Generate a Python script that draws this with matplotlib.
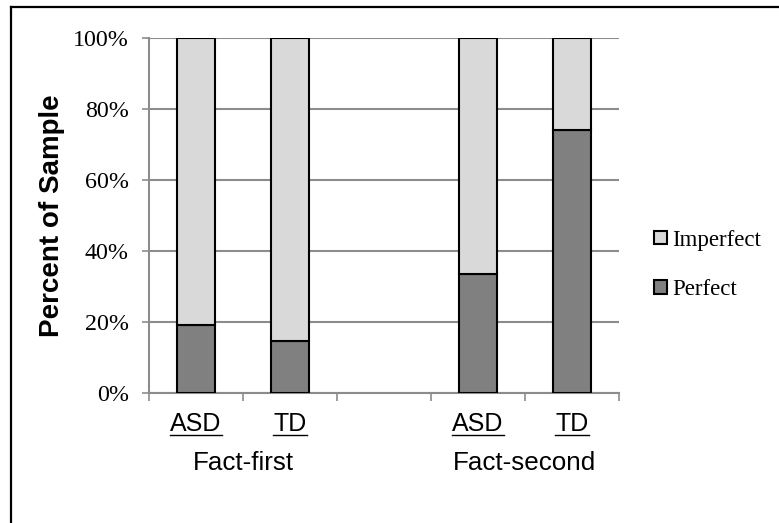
import matplotlib
matplotlib.use("Agg")
import matplotlib.pyplot as plt
from matplotlib.patches import Patch
from matplotlib.lines import Line2D

_DARK = "#808080"
_LIGHT = "#d9d9d9"
_GRID = "#8c8c8c"
_SERIF = "Liberation Serif"
_SANS = "Liberation Sans"

# data (slot 3 is the empty gap between the two conditions)
groups = ["ASD", "TD", "", "ASD", "TD"]
conditions = ["Fact-first", "Fact-second"]
condition_slots = [1.0, 4.0]
perfect = [19.0, 14.5, 0.0, 33.5, 74.0]
imperfect = [81.0, 85.5, 0.0, 66.5, 26.0]
y_ticks = [0, 20, 40, 60, 80, 100]

fig = plt.figure(figsize=(7.79, 5.23), dpi=100)
ax = fig.add_axes([0.1913, 0.2491, 0.6033, 0.6788])

x = [i + 0.5 for i in range(len(groups))]
shown = [i for i, g in enumerate(groups) if g]
xs = [x[i] for i in shown]
ax.bar(xs, [perfect[i] for i in shown], width=0.4, color=_DARK,
       edgecolor="black", linewidth=1.5, zorder=3)
ax.bar(xs, [imperfect[i] for i in shown], width=0.4,
       bottom=[perfect[i] for i in shown], color=_LIGHT,
       edgecolor="black", linewidth=1.5, zorder=3)

ax.set_xlim(0, len(groups))
ax.set_ylim(0, 100)
ax.set_yticks(y_ticks)
ax.set_yticklabels([f"{t}%" for t in y_ticks], fontfamily=_SERIF, fontsize=17.3)
ax.set_xticks(range(len(groups) + 1))
ax.set_xticklabels([])
ax.tick_params(axis="y", length=5, width=1.2, color=_GRID, pad=9.5)
ax.tick_params(axis="x", length=6, width=1.2, color=_GRID)
ax.grid(axis="y", color=_GRID, linewidth=1.5, zorder=0)
for side in ["top", "right"]:
    ax.spines[side].set_visible(False)
for side in ["left", "bottom"]:
    ax.spines[side].set_color(_GRID)
    ax.spines[side].set_linewidth(1.5)

ax.set_ylabel("Percent of Sample", fontfamily=_SANS, fontsize=20,
              fontweight="bold", labelpad=6)

# underlined group labels under each bar
labels = []
for i in shown:
    t = ax.annotate(groups[i], xy=(x[i], 0), xycoords=("data", "axes fraction"),
                    xytext=(0, -27.5), textcoords="offset points",
                    ha="center", va="baseline", fontfamily=_SANS, fontsize=18)
    labels.append(t)
for c, pos in zip(conditions, condition_slots):
    ax.annotate(c, xy=(pos, 0), xycoords=("data", "axes fraction"),
                xytext=(0, -55.5), textcoords="offset points",
                ha="center", va="baseline", fontfamily=_SANS, fontsize=18.7)

handles = [Patch(facecolor=_LIGHT, edgecolor="black", linewidth=1.5),
           Patch(facecolor=_DARK, edgecolor="black", linewidth=1.5)]
leg = ax.legend(handles, ["Imperfect", "Perfect"], loc="center left",
                bbox_to_anchor=(1.055, 0.36), frameon=False,
                prop={"family": _SERIF, "size": 16.5},
                handlelength=0.55, handleheight=0.55, handletextpad=0.25,
                labelspacing=1.25, borderaxespad=0)

# outer frame (right and bottom edges fall outside the image)
W, H = 779, 523
fig.add_artist(Line2D([11 / W, 11 / W], [0, 1 - 7 / H], color="black", linewidth=1.6))
fig.add_artist(Line2D([11 / W, 1], [1 - 7 / H, 1 - 7 / H], color="black", linewidth=1.6))

fig.canvas.draw()
r = fig.canvas.get_renderer()
for t in labels:
    bb = t.get_window_extent(r)
    yy = (bb.y0 + 1) / H
    fig.add_artist(Line2D([bb.x0 / W, bb.x1 / W], [yy, yy], color="black", linewidth=1.0))

fig.savefig("out.png", dpi=100)
